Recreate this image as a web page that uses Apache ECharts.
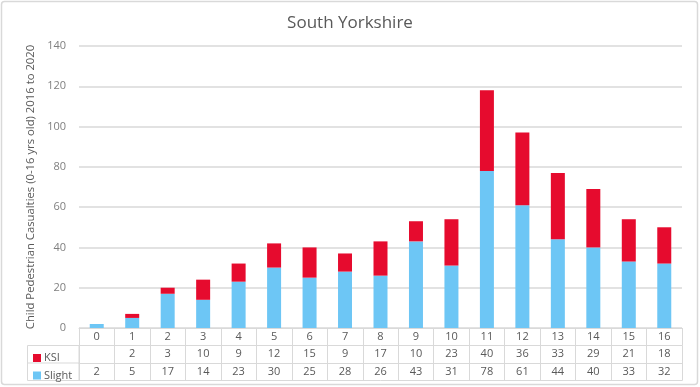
<!DOCTYPE html>
<html>
<head>
<meta charset="utf-8">
<script src="https://cdn.jsdelivr.net/npm/echarts@6/dist/echarts.min.js"></script>
<style>html,body{margin:0;padding:0;background:#fff}#c{width:700px;height:387px}</style>
</head>
<body>
<div id="c"></div>
<script>
const categories = ['0','1','2','3','4','5','6','7','8','9','10','11','12','13','14','15','16'];
const ksi = [null,2,3,10,9,12,15,9,17,10,23,40,36,33,29,21,18];
const slight = [2,5,17,14,23,30,25,28,26,43,31,78,61,44,40,33,32];
const yTicks = {min:0, max:140, interval:20};

const FONT = 'Open Sans';
const GRID = '#d9d9d9';
const TXT = '#595959';
const ROW = 17.5;

function tableAxis(offset, labels, showTicks){
  return {
    type:'category', data:categories, position:'bottom', offset:offset,
    axisLine:{show:true, lineStyle:{color:GRID, width:1}},
    axisTick:{show:showTicks, interval:0, length:ROW, inside:false, lineStyle:{color:GRID}},
    axisLabel:{show:!!labels, interval:0, margin:3, fontFamily:FONT, fontSize:11, color:TXT,
      formatter:(v,i)=> labels ? (labels[i]==null?'':String(labels[i])) : ''},
    splitLine:{show:false}
  };
}

const chart = echarts.init(document.getElementById('c'));
chart.setOption({
  animation:false,
  title:{text:'South Yorkshire', left:'center', top:10,
    textStyle:{fontFamily:FONT, fontSize:17, fontWeight:'normal', color:TXT}},
  grid:{left:79, right:18, top:46, bottom:59, containLabel:false},
  legend:[
    {data:['KSI'], left:28, top:347.5, orient:'vertical', icon:'rect', itemWidth:8, itemHeight:8, itemGap:4,
      textStyle:{fontFamily:FONT, fontSize:11, color:TXT, padding:[0,0,0,-2]}},
    {data:['Slight'], left:28, top:365, orient:'vertical', icon:'rect', itemWidth:8, itemHeight:8, itemGap:4,
      textStyle:{fontFamily:FONT, fontSize:11, color:TXT, padding:[0,0,0,-2]}}
  ],
  xAxis:[
    tableAxis(0, categories, true),
    tableAxis(ROW, ksi, true),
    tableAxis(ROW*2, slight, true),
    tableAxis(ROW*3, null, false)
  ],
  yAxis:{type:'value', min:yTicks.min, max:yTicks.max, interval:yTicks.interval,
    name:'Child Pedestrian Casualties (0-16 yrs old) 2016 to 2020', nameLocation:'middle', nameGap:43,
    nameTextStyle:{fontFamily:FONT, fontSize:11.3, color:TXT},
    axisLine:{show:false}, axisTick:{show:false},
    axisLabel:{fontFamily:FONT, fontSize:11, color:'#7f7f7f', margin:13},
    splitLine:{lineStyle:{color:GRID, width:1.5}}
  },
  series:[
    {name:'Slight', type:'bar', stack:'t', data:slight, barWidth:14, itemStyle:{color:'#6dc6f5'}},
    {name:'KSI', type:'bar', stack:'t', data:ksi, barWidth:14, itemStyle:{color:'#e60b2e'}}
  ],
  graphic:[
    {type:'rect', shape:{x:1.5, y:1.5, width:696, height:383, r:3}, style:{fill:null, stroke:GRID, lineWidth:1.5}, silent:true},
    {type:'rect', shape:{x:27.5, y:328+ROW, width:51.5, height:ROW*2}, style:{fill:null, stroke:GRID, lineWidth:1}, silent:true},
    {type:'line', shape:{x1:27.5, y1:328+ROW*2, x2:79, y2:328+ROW*2}, style:{stroke:GRID, lineWidth:1}, silent:true}
  ]
});
</script>
</body>
</html>
